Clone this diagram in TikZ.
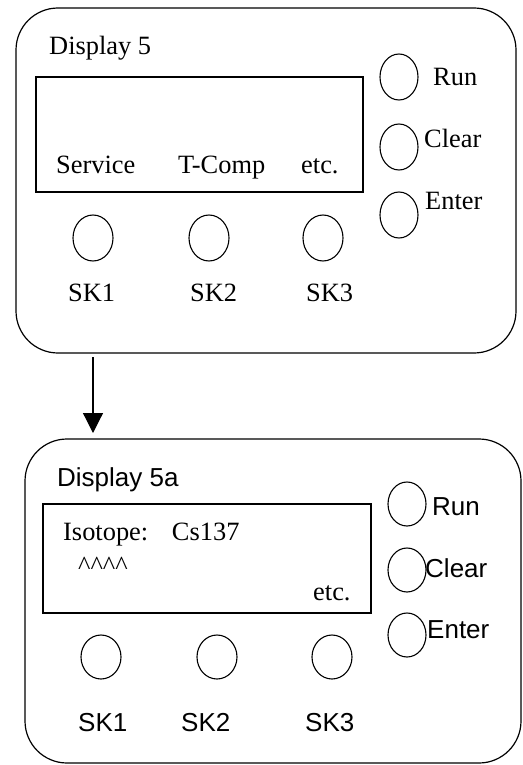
\documentclass[tikz,border=0pt]{standalone}
\usepackage{fontspec}
\setmainfont{Liberation Serif}
\newfontfamily\arialfont{Liberation Sans}
\usetikzlibrary{shapes.geometric,arrows.meta}
\begin{document}
\begin{tikzpicture}[x=1pt,y=-1pt,
  panel/.style={draw,line width=1.2pt,rounded corners=42pt,inner sep=0pt},
  screen/.style={draw,line width=1.4pt,inner sep=0pt},
  key/.style={draw,ellipse,line width=1.1pt,minimum width=40pt,minimum height=46pt,inner sep=0pt},
  serif/.style={inner sep=0pt,anchor=base west,font=\fontsize{26.4}{30}\selectfont},
  sans/.style={inner sep=0pt,anchor=base west,font=\arialfont\fontsize{26}{30}\selectfont},
  flow/.style={line width=1.2pt,-{Triangle[width=20pt,length=20pt]}}]
\useasboundingbox (0,0) rectangle (522,765);

% ---- Display 5 ----
\node[panel,minimum width=500pt,minimum height=345pt] (topbox) at (266,180.5) {};
\node[serif] (t-title) at (49,55) {Display 5};
\node[screen,minimum width=327pt,minimum height=115pt] (t-screen) at (199.5,134.5) {};
\node[serif] (t-service) at (56,173) {Service};
\node[serif] (t-tcomp) at (178,173) {T-Comp};
\node[serif] (t-etc) at (301,173) {etc.};
\node[key] (t-sk1) at (93,238) {};
\node[key] (t-sk2) at (209,238) {};
\node[key] (t-sk3) at (323,238) {};
\node[serif] (t-sk1l) at (68,301) {SK1};
\node[serif] (t-sk2l) at (190,301) {SK2};
\node[serif] (t-sk3l) at (306,301) {SK3};
\node[key,minimum width=38pt] (t-run) at (399,77) {};
\node[key,minimum width=38pt] (t-clear) at (399,147) {};
\node[key,minimum width=38pt] (t-enter) at (399,215) {};
\node[serif] (t-runl) at (433,86) {Run};
\node[serif] (t-clearl) at (424,147) {Clear};
\node[serif] (t-enterl) at (425,209) {Enter};

% ---- Display 5a ----
\node[panel,minimum width=496pt,minimum height=324pt] (botbox) at (273,601) {};
\node[sans] (b-title) at (57,486) {Display 5a};
\node[screen,minimum width=328pt,minimum height=109pt] (b-screen) at (207,558.5) {};
\node[serif] (b-iso) at (63,540) {Isotope:\hspace{0.9em}Cs137};
\node[serif] (b-caret) at (78,574) {\textasciicircum\textasciicircum\textasciicircum\textasciicircum};
\node[serif] (b-etc) at (313,600) {etc.};
\node[key,minimum height=44pt] (b-sk1) at (101,657) {};
\node[key,minimum height=44pt] (b-sk2) at (217,657) {};
\node[key,minimum height=44pt] (b-sk3) at (332,657) {};
\node[sans] (b-sk1l) at (78,731) {SK1};
\node[sans] (b-sk2l) at (181,731) {SK2};
\node[sans] (b-sk3l) at (305,731) {SK3};
\node[key,minimum width=38pt,minimum height=44pt] (b-run) at (407,504) {};
\node[key,minimum width=38pt,minimum height=44pt] (b-clear) at (407,570) {};
\node[key,minimum width=38pt,minimum height=44pt] (b-enter) at (407,635) {};
\node[sans] (b-runl) at (432,515) {Run};
\node[sans] (b-clearl) at (425,577) {Clear};
\node[sans] (b-enterl) at (427,638) {Enter};

% ---- transition ----
\coordinate (a-from) at (93,357);
\coordinate (a-to) at (93,433);
\draw[flow] (a-from) -- (a-to);
\end{tikzpicture}
\end{document}
